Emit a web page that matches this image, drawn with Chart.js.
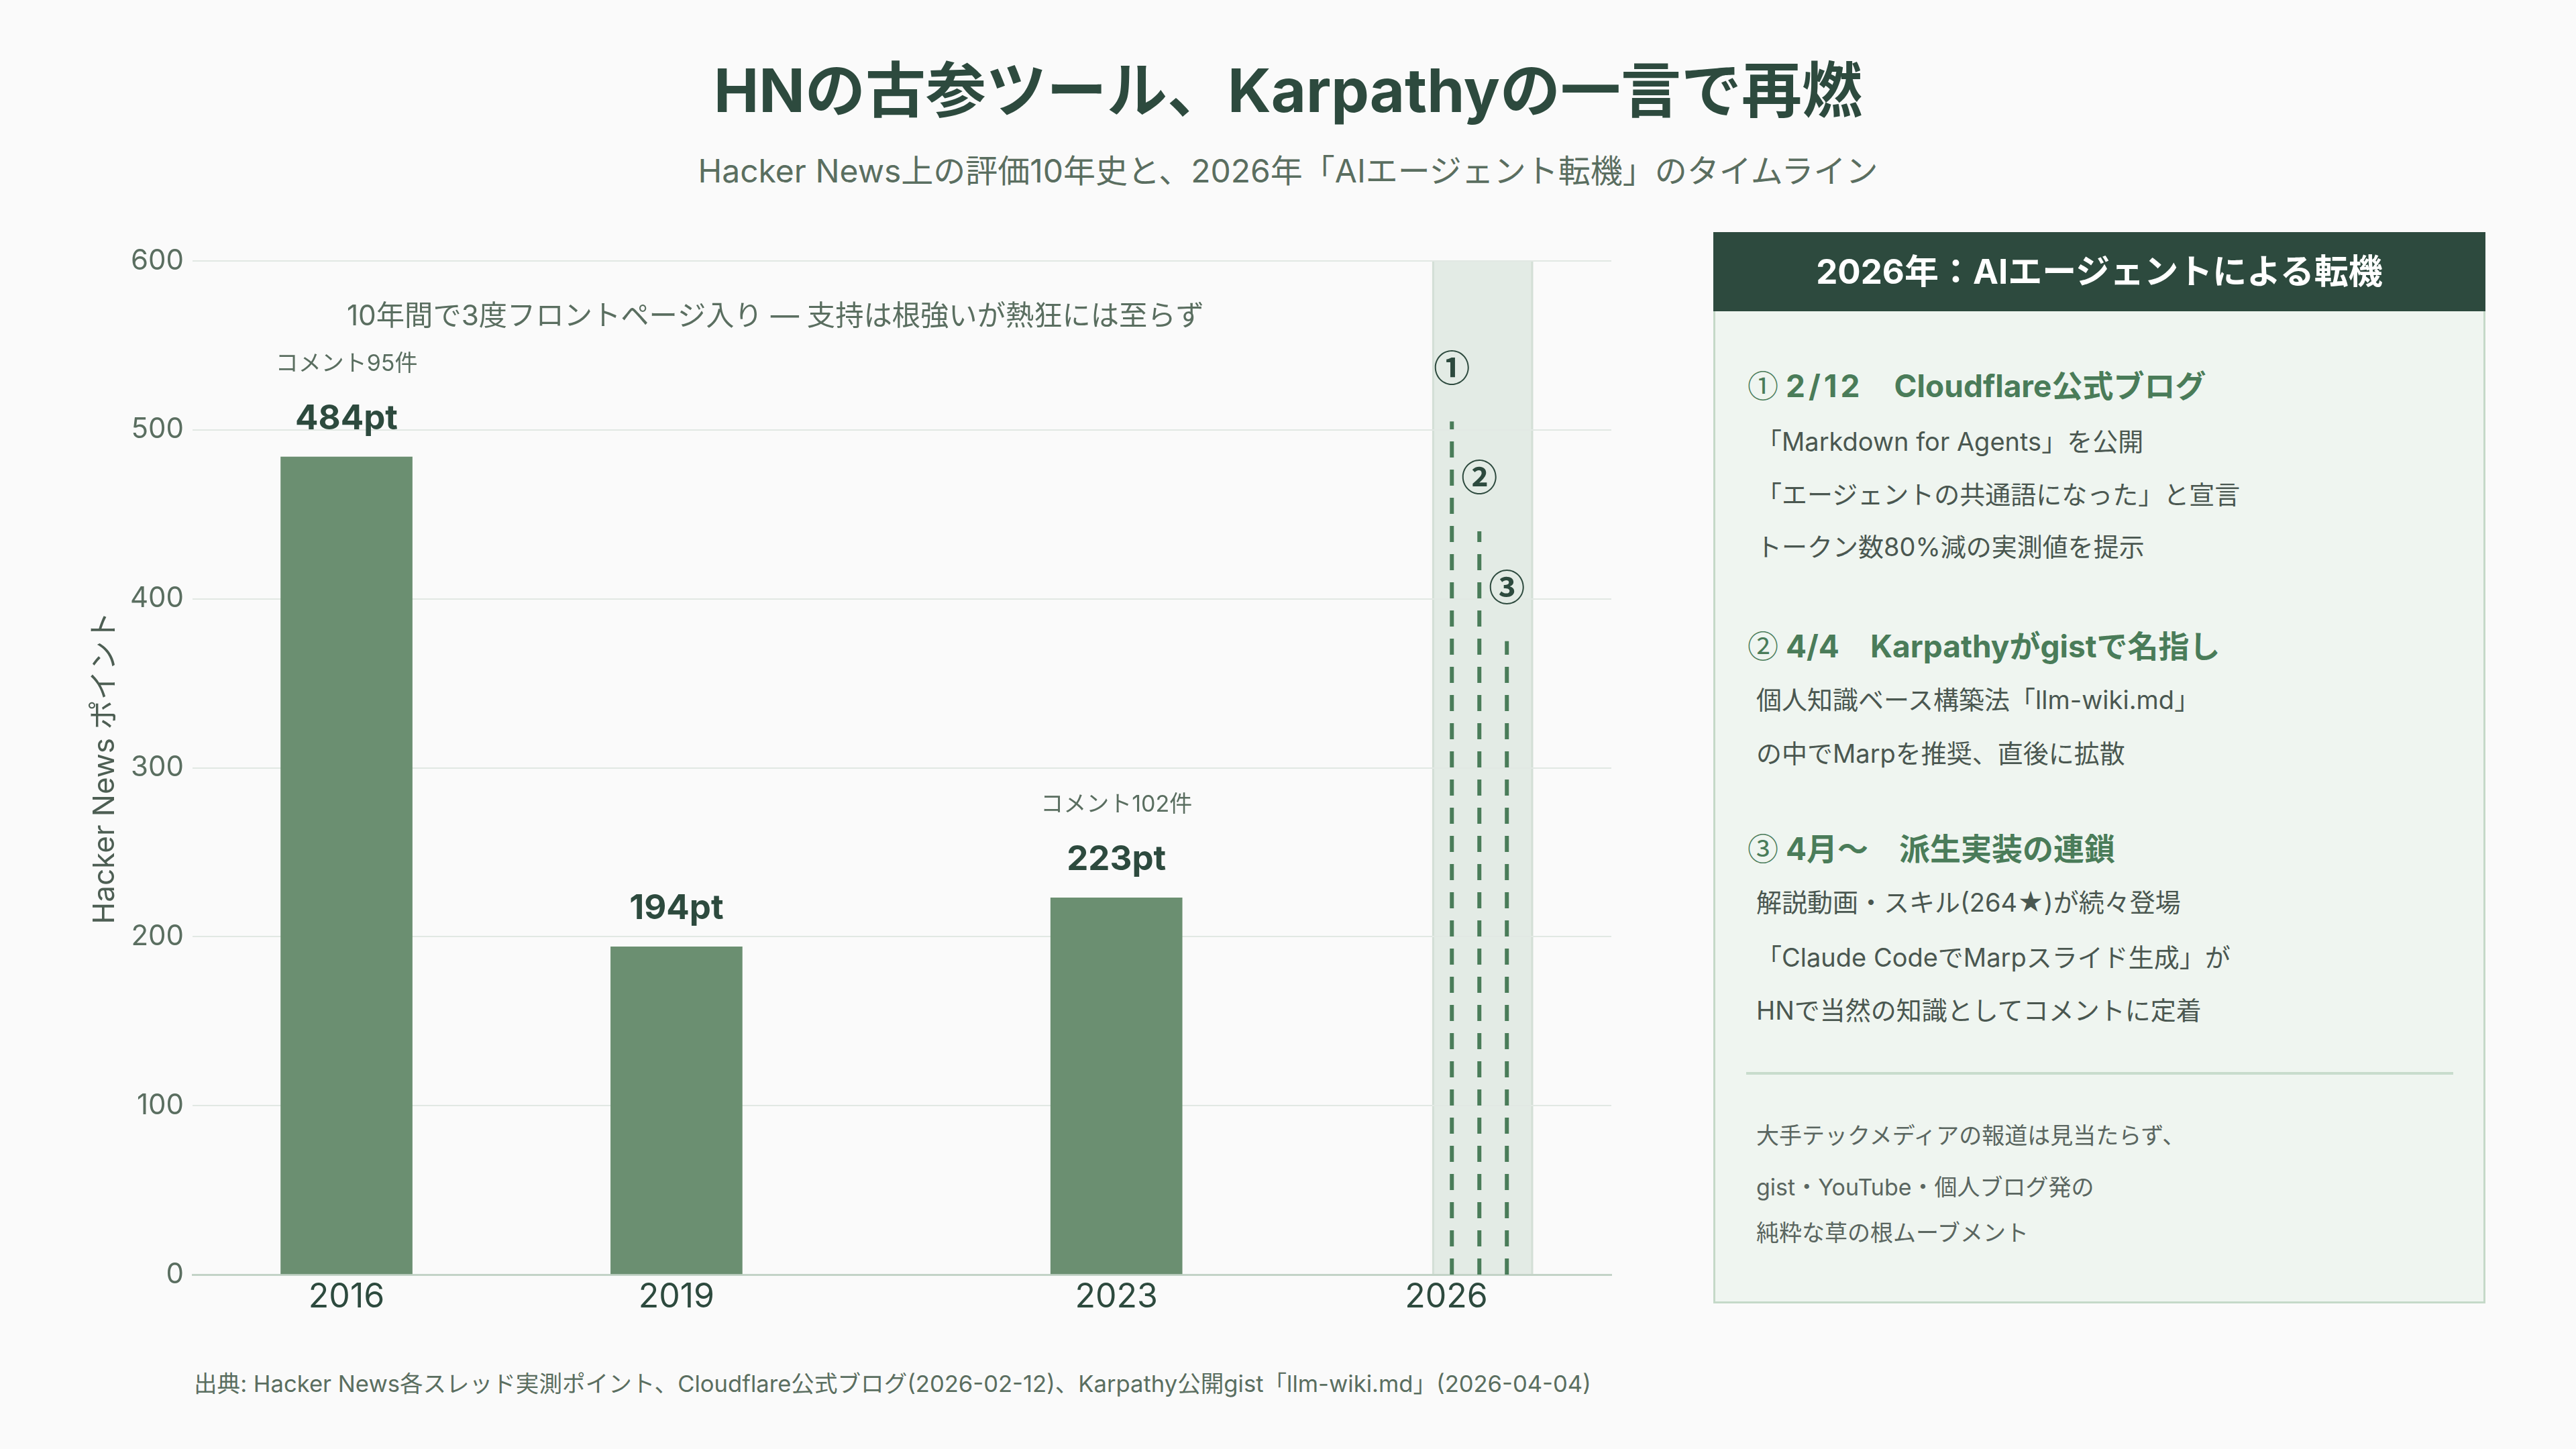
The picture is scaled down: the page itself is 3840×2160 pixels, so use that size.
<!DOCTYPE html>
<html lang="ja">
<head>
<meta charset="utf-8">
<title>HNの古参ツール、Karpathyの一言で再燃</title>
<script src="https://cdn.jsdelivr.net/npm/chart.js@4.4.1/dist/chart.umd.min.js"></script>
<style>
  html, body { margin: 0; padding: 0; }
  body {
    width: 3840px; height: 2160px; position: relative; overflow: hidden;
    background: #fafafa;
    font-family: Inter, "Noto Sans CJK JP", sans-serif;
  }
  .abs { position: absolute; white-space: nowrap; line-height: 1; }
  .cjk { font-family: "Noto Sans CJK JP", sans-serif; font-weight: 400; }
  #title { left: 0; width: 3840px; top: 90px; text-align: center; font-size: 90px; font-weight: 700; color: #2d4a3e; }
  #subtitle { left: 0; width: 3840px; top: 231px; text-align: center; font-size: 48px; color: #5a6e60; }
  #chart-wrap { position: absolute; left: 0; top: 300px; width: 2460px; height: 1720px; }
  #source { left: 289px; top: 2045px; font-size: 34.6px; color: #5a6e60; }

  #panel {
    position: absolute; left: 2554px; top: 346px; width: 1151px; height: 1597px;
    box-sizing: border-box; border: 3px solid #c5d9c8; background: #eff5f0;
  }
  #panel .head {
    position: absolute; left: -3px; top: -3px; width: 1151px; height: 118px;
    background: #2d4a3e; color: #fff; font-size: 51px; font-weight: 700;
    text-align: center; line-height: 118px; white-space: nowrap;
  }
  #panel .h { left: 48px; font-size: 46px; font-weight: 700; color: #4a7c59; }
  #panel .h .date { letter-spacing: 5px; }
  #panel .t { left: 61px; font-size: 38px; color: #4a5750; }
  #panel .n { left: 61px; font-size: 34px; color: #5a6660; }
  #panel .rule { position: absolute; left: 46px; top: 1249px; width: 1054px; height: 4px; background: #c8dccd; }
</style>
</head>
<body>

<div id="title" class="abs">HNの古参ツール、Karpathyの一言で再燃</div>
<div id="subtitle" class="abs">Hacker News上の評価10年史と、2026年「AIエージェント転機」のタイムライン</div>

<div id="chart-wrap"><canvas id="chart"></canvas></div>

<div id="source" class="abs">出典: Hacker News各スレッド実測ポイント、Cloudflare公式ブログ(2026-02-12)、Karpathy公開gist「llm-wiki.md」(2026-04-04)</div>

<div id="panel">
  <div class="head">2026年：AIエージェントによる転機</div>

  <div class="abs h" style="top:200px"><span class="cjk">①</span> <span class="date">2/12</span>　Cloudflare公式ブログ</div>
  <div class="abs t" style="top:290px">「Markdown for Agents」を公開</div>
  <div class="abs t" style="top:369px">「エージェントの共通語になった」と宣言</div>
  <div class="abs t" style="top:447px">トークン数80%減の実測値を提示</div>

  <div class="abs h" style="top:588px"><span class="cjk">②</span> 4/4　Karpathyがgistで名指し</div>
  <div class="abs t" style="top:675px">個人知識ベース構築法「llm-wiki.md」</div>
  <div class="abs t" style="top:755px">の中でMarpを推奨、直後に拡散</div>

  <div class="abs h" style="top:890px"><span class="cjk">③</span> 4月〜　派生実装の連鎖</div>
  <div class="abs t" style="top:977px">解説動画・スキル(264★)が続々登場</div>
  <div class="abs t" style="top:1059px">「Claude CodeでMarpスライド生成」が</div>
  <div class="abs t" style="top:1138px">HNで当然の知識としてコメントに定着</div>

  <div class="rule"></div>

  <div class="abs n" style="top:1327px">大手テックメディアの報道は見当たらず、</div>
  <div class="abs n" style="top:1404px">gist・YouTube・個人ブログ発の</div>
  <div class="abs n" style="top:1472px">純粋な草の根ムーブメント</div>
</div>

<script>
// HN points per front-page thread
const years = [2016, 2019, 2023];
const points = [484, 194, 223];
const comments = [95, null, 102];

// x axis ticks (linear year axis)
const xTicks = [2016, 2019, 2023, 2026];

// 2026 events: marker position on the year axis and height of the dashed line
const eventLabels = ['①', '②', '③'];
const eventX = [2026.05, 2026.30, 2026.55];
const eventTop = [505, 440, 375];

// shaded 2026 band
const bandRange = [2025.88, 2026.78];

const noteText = '10年間で3度フロントページ入り — 支持は根強いが熱狂には至らず';

const FONT = 'Inter, "Noto Sans CJK JP", sans-serif';
Chart.defaults.font.family = FONT;

// Shaded band behind the grid
const bandPlugin = {
    id: 'band',
    beforeDraw(chart) {
        const { ctx, scales: { x, y } } = chart;
        const x0 = x.getPixelForValue(bandRange[0]);
        const x1 = x.getPixelForValue(bandRange[1]);
        const top = y.getPixelForValue(y.max);
        const bottom = y.getPixelForValue(0);
        ctx.save();
        ctx.fillStyle = '#e3ebe5';
        ctx.fillRect(x0, top, x1 - x0, bottom - top);
        ctx.strokeStyle = '#d3dfd6';
        ctx.lineWidth = 3;
        ctx.beginPath();
        ctx.moveTo(x0, top); ctx.lineTo(x0, bottom);
        ctx.moveTo(x1, top); ctx.lineTo(x1, bottom);
        ctx.stroke();
        ctx.restore();
    }
};

// Value labels, comment counts, event numbers and the note line
const labelPlugin = {
    id: 'labels',
    afterDatasetsDraw(chart) {
        const { ctx, scales: { x, y } } = chart;
        ctx.save();
        ctx.textAlign = 'center';
        ctx.textBaseline = 'alphabetic';

        years.forEach((yr, i) => {
            const px = x.getPixelForValue(yr);
            const top = y.getPixelForValue(points[i]);
            ctx.fillStyle = '#2d4a3e';
            ctx.font = 'bold 51px ' + FONT;
            ctx.fillText(points[i] + 'pt', px, top - 41);
            if (comments[i] !== null) {
                ctx.fillStyle = '#5a6e60';
                ctx.font = '34px ' + FONT;
                ctx.fillText('コメント' + comments[i] + '件', px, top - 128);
            }
        });

        // circled numbers come from the CJK font
        ctx.textBaseline = 'middle';
        ctx.fillStyle = '#2d4a3e';
        ctx.font = 'bold 54px "Noto Sans CJK JP", sans-serif';
        eventLabels.forEach((lab, i) => {
            ctx.fillText(lab, x.getPixelForValue(eventX[i]), y.getPixelForValue(eventTop[i]) - 80);
        });

        ctx.fillStyle = '#5a6e60';
        ctx.font = '42.3px ' + FONT;
        ctx.fillText(noteText, x.getPixelForValue(2019.9), y.getPixelForValue(567));
        ctx.restore();
    }
};

const eventDatasets = eventX.map((ex, i) => ({
    type: 'line',
    data: [{ x: ex, y: 0 }, { x: ex, y: eventTop[i] }],
    borderColor: '#4a7c59',
    borderWidth: 6,
    borderDash: [24, 18],
    pointRadius: 0,
    fill: false
}));

new Chart(document.getElementById('chart'), {
    type: 'bar',
    data: {
        datasets: [{
            type: 'bar',
            data: years.map((yr, i) => ({ x: yr, y: points[i] })),
            backgroundColor: '#6b8f71',
            barThickness: 196
        }, ...eventDatasets]
    },
    options: {
        responsive: true,
        maintainAspectRatio: false,
        animation: false,
        devicePixelRatio: 1,
        layout: { padding: { top: 89, right: 58, bottom: 0, left: 0 } },
        plugins: {
            legend: { display: false },
            tooltip: { enabled: false }
        },
        scales: {
            x: {
                type: 'linear',
                min: 2014.6,
                max: 2027.5,
                offset: false,
                afterBuildTicks: (scale) => { scale.ticks = xTicks.map(v => ({ value: v })); },
                afterFit: (scale) => { scale.height = 120; },
                ticks: {
                    callback: (v) => String(v),
                    color: '#2d4a3e',
                    font: { size: 50 },
                    padding: 4,
                    maxRotation: 0,
                    autoSkip: false
                },
                grid: { display: false, drawTicks: false },
                border: { display: true, color: '#c3d3c7', width: 3 }
            },
            y: {
                min: 0,
                max: 600,
                afterFit: (scale) => { scale.width = 287; },
                ticks: {
                    stepSize: 100,
                    color: '#5a6e60',
                    font: { size: 42 },
                    padding: 13
                },
                grid: { color: '#e1e8e3', lineWidth: 2, drawTicks: false },
                border: { display: false },
                title: {
                    display: true,
                    text: 'Hacker News ポイント',
                    color: '#4d5e53',
                    font: { size: 44 },
                    padding: { top: 130, bottom: 0 }
                }
            }
        }
    },
    plugins: [bandPlugin, labelPlugin]
});
</script>
</body>
</html>
